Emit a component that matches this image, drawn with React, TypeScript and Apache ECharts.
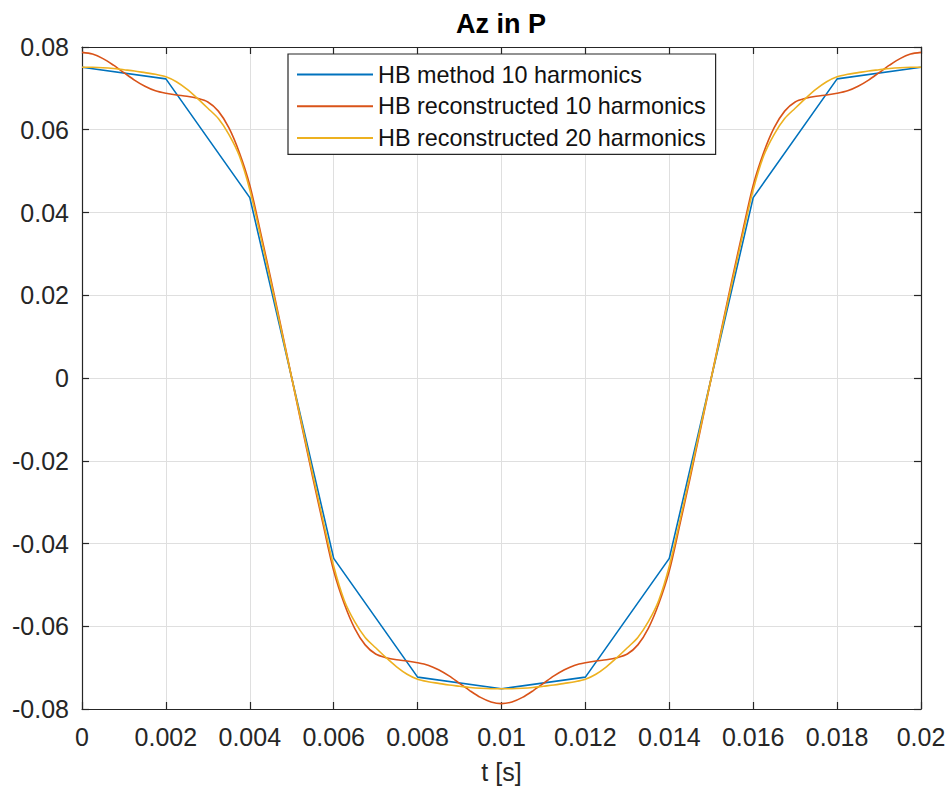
import React, { useEffect, useRef } from "react";
import * as echarts from "echarts";

// time samples of the HB method (10 harmonics)
const tHB = [0, 0.002, 0.004, 0.006, 0.008, 0.01, 0.012, 0.014, 0.016, 0.018, 0.02];
const hbMethod10 = [0.0751, 0.0723, 0.0436, -0.0436, -0.0723, -0.0751, -0.0723, -0.0436, 0.0436, 0.0723, 0.0751];

// fine time grid for reconstructed curves (step 0.00025 s)
const tFine = Array.from({ length: 81 }, (_, i) => i * 0.00025);

const hbRecon10 = [
  0.0787, 0.0783, 0.0772, 0.0756, 0.0738, 0.072, 0.0705, 0.0694, 0.0688, 0.0684,
  0.0681, 0.0676, 0.0667, 0.0645, 0.0605, 0.0545, 0.0466, 0.0355, 0.024, 0.0121,
  0,
  -0.0121, -0.024, -0.0355, -0.0466, -0.0545, -0.0605, -0.0645, -0.0667, -0.0676,
  -0.0681, -0.0684, -0.0688, -0.0694, -0.0705, -0.072, -0.0738, -0.0756, -0.0772, -0.0783,
  -0.0787,
  -0.0783, -0.0772, -0.0756, -0.0738, -0.072, -0.0705, -0.0694, -0.0688, -0.0684,
  -0.0681, -0.0676, -0.0667, -0.0645, -0.0605, -0.0545, -0.0466, -0.0355, -0.024, -0.0121,
  0,
  0.0121, 0.024, 0.0355, 0.0466, 0.0545, 0.0605, 0.0645, 0.0667, 0.0676,
  0.0681, 0.0684, 0.0688, 0.0694, 0.0705, 0.072, 0.0738, 0.0756, 0.0772, 0.0783,
  0.0787,
];

const hbRecon20 = [
  0.0751, 0.0751, 0.075, 0.0748, 0.0745, 0.0742, 0.0738, 0.0734, 0.0728, 0.0716,
  0.0698, 0.0676, 0.0652, 0.0627, 0.0589, 0.0537, 0.0455, 0.0346, 0.0232, 0.0116,
  0,
  -0.0116, -0.0232, -0.0346, -0.0455, -0.0537, -0.0589, -0.0627, -0.0652, -0.0676,
  -0.0698, -0.0716, -0.0728, -0.0734, -0.0738, -0.0742, -0.0745, -0.0748, -0.075, -0.0751,
  -0.0751,
  -0.0751, -0.075, -0.0748, -0.0745, -0.0742, -0.0738, -0.0734, -0.0728, -0.0716,
  -0.0698, -0.0676, -0.0652, -0.0627, -0.0589, -0.0537, -0.0455, -0.0346, -0.0232, -0.0116,
  0,
  0.0116, 0.0232, 0.0346, 0.0455, 0.0537, 0.0589, 0.0627, 0.0652, 0.0676,
  0.0698, 0.0716, 0.0728, 0.0734, 0.0738, 0.0742, 0.0745, 0.0748, 0.075, 0.0751,
  0.0751,
];

const seriesNames = [
  "HB method 10 harmonics",
  "HB reconstructed 10 harmonics",
  "HB reconstructed 20 harmonics",
];
const colors = ["#0072BD", "#D95319", "#EDB120"];

const FONT = "'Liberation Sans', Arial, Helvetica, sans-serif";
const AX = "#262626";
const GRID = "#dfdfdf";

const fmt = (v: number) => String(parseFloat(v.toFixed(4)));

export default function App() {
  const ref = useRef<HTMLDivElement>(null);
  useEffect(() => {
    const chart = echarts.init(ref.current!, null, { renderer: "svg" });
    const axisCommon = {
      type: "value" as const,
      axisLine: { show: true, onZero: false, lineStyle: { color: AX, width: 1.2 } },
      axisTick: { show: true, inside: true, length: 7, lineStyle: { color: AX, width: 1.2 } },
    };
    chart.setOption({
      animation: false,
      backgroundColor: "#fff",
      title: {
        text: "Az in P",
        left: 501,
        textAlign: "center",
        top: 10,
        padding: 0,
        textStyle: { fontFamily: FONT, fontSize: 27, fontWeight: "bold", color: "#000" },
      },
      legend: {
        orient: "vertical",
        left: 288,
        top: 54,
        padding: [9, 10, 5, 8],
        itemWidth: 76,
        itemHeight: 23,
        itemGap: 8.7,
        backgroundColor: "#fff",
        borderColor: AX,
        borderWidth: 1.2,
        borderRadius: 0,
        itemStyle: { opacity: 0 },
        data: seriesNames,
        textStyle: { fontFamily: FONT, fontSize: 23.4, color: "#111" },
      },
      grid: { left: 82, right: 31, top: 47, bottom: 82 },
      xAxis: [
        {
          ...axisCommon,
          position: "bottom",
          min: 0,
          max: 0.02,
          interval: 0.002,
          name: "t [s]",
          nameLocation: "middle",
          nameGap: 50,
          nameTextStyle: { fontFamily: FONT, fontSize: 25, color: AX },
          axisLabel: { fontFamily: FONT, fontSize: 25, color: AX, margin: 15, formatter: fmt },
          splitLine: { show: true, lineStyle: { color: GRID, width: 1 } },
        },
        {
          ...axisCommon,
          position: "top",
          min: 0,
          max: 0.02,
          interval: 0.002,
          axisLabel: { show: false },
          splitLine: { show: false },
        },
      ],
      yAxis: [
        {
          ...axisCommon,
          position: "left",
          min: -0.08,
          max: 0.08,
          interval: 0.02,
          axisLabel: { fontFamily: FONT, fontSize: 25, color: AX, margin: 13, formatter: fmt },
          splitLine: { show: true, lineStyle: { color: GRID, width: 1 } },
        },
        {
          ...axisCommon,
          position: "right",
          min: -0.08,
          max: 0.08,
          interval: 0.02,
          axisLabel: { show: false },
          splitLine: { show: false },
        },
      ],
      series: [
        {
          name: seriesNames[0],
          type: "line",
          xAxisIndex: 0,
          yAxisIndex: 0,
          symbol: "none",
          data: tHB.map((t, i) => [t, hbMethod10[i]]),
          lineStyle: { color: colors[0], width: 1.6 },
          itemStyle: { color: colors[0] },
        },
        {
          name: seriesNames[1],
          type: "line",
          xAxisIndex: 0,
          yAxisIndex: 0,
          symbol: "none",
          smooth: 0.3,
          data: tFine.map((t, i) => [t, hbRecon10[i]]),
          lineStyle: { color: colors[1], width: 1.6 },
          itemStyle: { color: colors[1] },
        },
        {
          name: seriesNames[2],
          type: "line",
          xAxisIndex: 0,
          yAxisIndex: 0,
          symbol: "none",
          smooth: 0.3,
          data: tFine.map((t, i) => [t, hbRecon20[i]]),
          lineStyle: { color: colors[2], width: 1.6 },
          itemStyle: { color: colors[2] },
        },
      ],
    });
    return () => chart.dispose();
  }, []);
  return (
    <div
      ref={ref}
      style={{ position: "fixed", left: 0, top: 0, width: 952, height: 791, background: "#fff" }}
    />
  );
}
